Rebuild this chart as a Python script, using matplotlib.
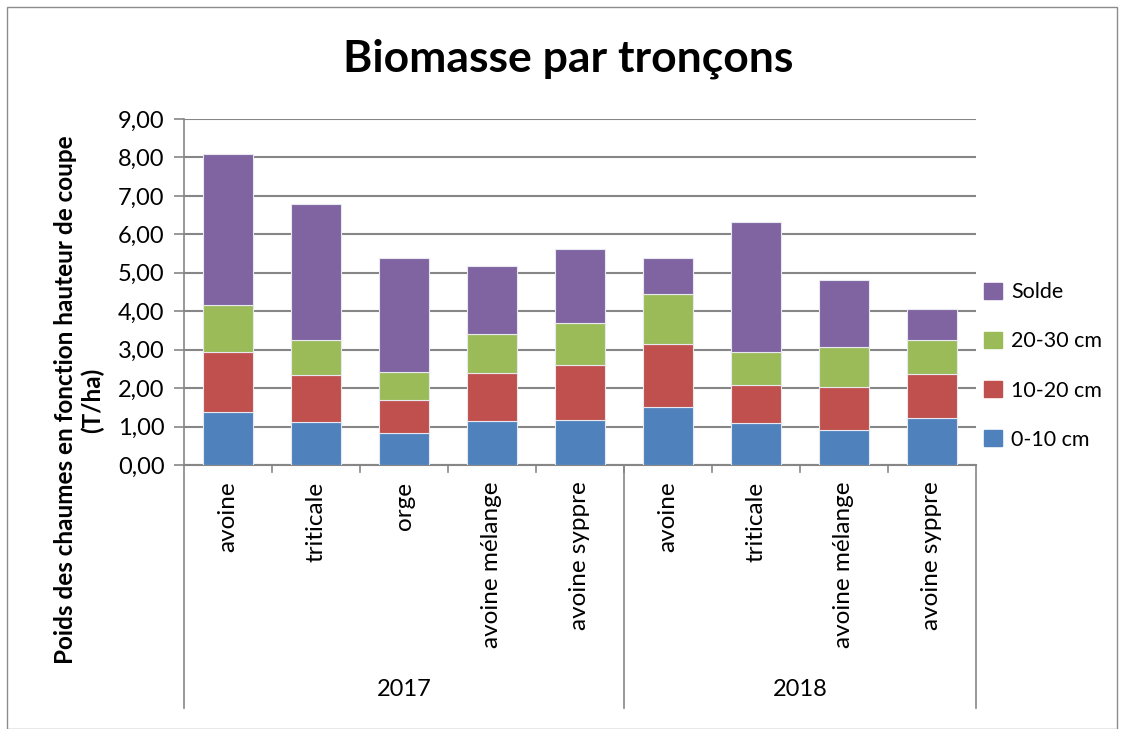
import matplotlib
matplotlib.use("Agg")
import matplotlib.pyplot as plt
from matplotlib.patches import Patch, Rectangle
from matplotlib.lines import Line2D
import numpy as np

plt.rcParams['font.family'] = ['Lato', 'DejaVu Sans']

years = ["2017", "2017", "2017", "2017", "2017", "2018", "2018", "2018", "2018"]
crops = ["avoine", "triticale", "orge", "avoine mélange", "avoine syppre",
         "avoine", "triticale", "avoine mélange", "avoine syppre"]
group_labels = ["2017", "2018"]
series_names = ["0-10 cm", "10-20 cm", "20-30 cm", "Solde"]
s_0_10 = [1.39, 1.13, 0.84, 1.15, 1.17, 1.50, 1.08, 0.91, 1.23]
s_10_20 = [1.54, 1.20, 0.84, 1.24, 1.42, 1.64, 1.01, 1.12, 1.15]
s_20_30 = [1.22, 0.93, 0.73, 1.01, 1.11, 1.30, 0.84, 1.03, 0.87]
s_solde = [3.95, 3.54, 2.97, 1.78, 1.91, 0.95, 3.40, 1.76, 0.82]
colors = ["#4F81BD", "#C0504D", "#9BBB59", "#8064A2"]
yticks = [0, 1, 2, 3, 4, 5, 6, 7, 8, 9]

W, H = 1124, 729
fig = plt.figure(figsize=(W / 100, H / 100), dpi=100)

# outer chart border
fig.add_artist(Rectangle((7 / W, 0), (1117 - 7) / W, (729 - 7) / H, transform=fig.transFigure,
                         fill=False, edgecolor="#8c8c8c", linewidth=1.0))

x0, x1, y0, y1 = 184, 976, 465, 119
ax = fig.add_axes([x0 / W, 1 - y0 / H, (x1 - x0) / W, (y0 - y1) / H])

x = np.arange(len(crops))
series = [s_0_10, s_10_20, s_20_30, s_solde]
bottom = np.zeros(len(crops))
handles = []
for vals, c, name in zip(series, colors, series_names):
    ax.bar(x, vals, bottom=bottom, width=0.57, color=c, edgecolor="#e8e8f0",
           linewidth=0.8, zorder=3, label=name)
    bottom += np.array(vals)
    handles.append(Patch(facecolor=c, edgecolor=c, label=name))

ax.set_xlim(-0.5, len(crops) - 0.5)
ax.set_ylim(0, 9)
ax.set_yticks(yticks)
ax.set_yticklabels([f"{v:.2f}".replace(".", ",") for v in yticks], fontsize=17)
ax.tick_params(axis="y", direction="out", length=7, width=1.2, color="#868686", pad=7)
ax.grid(axis="y", color="#868686", linewidth=1.5, zorder=0)
ax.set_xticks([])
for side in ["top", "right"]:
    ax.spines[side].set_visible(False)
ax.spines["left"].set_color("#868686")
ax.spines["left"].set_linewidth(1.2)
ax.spines["bottom"].set_color("#868686")
ax.spines["bottom"].set_linewidth(1.5)

# category labels (rotated)
trans = ax.get_xaxis_transform()
for xi, lab in zip(x, crops):
    ax.text(xi, -0.048, lab, rotation=90, ha="center", va="top", fontsize=17.5,
            transform=trans, clip_on=False)

# group separators and labels
sep_bottom = -(708 - 465) / (y0 - y1)
for sx in [-0.5, 4.5, len(crops) - 0.5]:
    ax.add_line(Line2D([sx, sx], [0, sep_bottom], transform=trans, color="#868686",
                       linewidth=1.2, clip_on=False))
# small ticks between categories
for sx in np.arange(0.5, len(crops) - 1, 1.0):
    ax.add_line(Line2D([sx, sx], [0, -0.02], transform=trans, color="#868686",
                       linewidth=1.2, clip_on=False))
grp_y = -(690 - 465) / (y0 - y1)
ax.text(2, grp_y, group_labels[0], ha="center", va="center", fontsize=17, transform=trans)
ax.text(6.5, grp_y, group_labels[1], ha="center", va="center", fontsize=17, transform=trans)

# title
fig.text(568 / W, 1 - 59 / H, "Biomasse par tronçons", ha="center", va="center",
         fontsize=32, fontweight="bold")

# y label
fig.text(79 / W, 1 - 400 / H, "Poids des chaumes en fonction hauteur de coupe\n(T/ha)",
         rotation=90, ha="center", va="center", fontsize=17.5, fontweight="bold",
         multialignment="center", linespacing=1.15)

# legend
fig.legend(handles=handles[::-1], labels=series_names[::-1], loc="center left",
           bbox_to_anchor=(965 / W, 1 - 366 / H), frameon=False, fontsize=15.5,
           handlelength=0.8, handleheight=0.8, handletextpad=0.45, labelspacing=1.35)

fig.savefig("out.png", dpi=100)
